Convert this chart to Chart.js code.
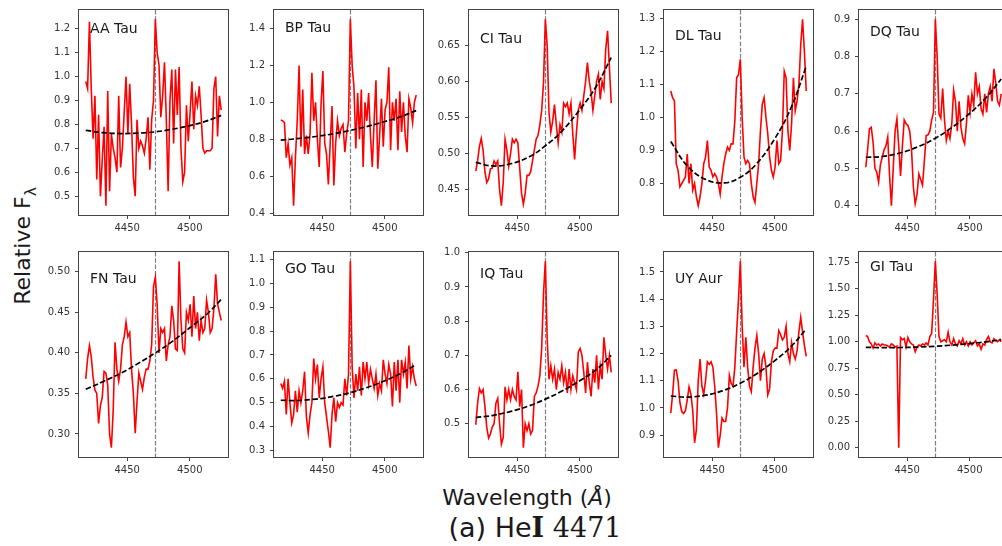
<!DOCTYPE html>
<html>
<head>
<meta charset="utf-8">
<title>He I 4471</title>
<script src="https://cdn.jsdelivr.net/npm/chart.js@4.4.1/dist/chart.umd.min.js"></script>
<style>
  html, body { margin: 0; padding: 0; background: #fff; }
  #page { position: relative; width: 1002px; height: 546px; overflow: hidden; font-family: "DejaVu Sans", sans-serif; color: #1a1a1a; }
  .panel { position: absolute; }
  .panel canvas { display: block; }
  #ylabel { position: absolute; left: 25px; top: 246px; transform: translate(-50%, -50%) rotate(-90deg); font-size: 22px; white-space: nowrap; }
  #ylabel sub { font-size: 0.7em; }
  #xlabel { position: absolute; left: 527px; top: 497px; transform: translate(-50%, -50%); font-size: 22px; white-space: nowrap; }
  #xlabel i { font-style: italic; }
  #caption { position: absolute; left: 535px; top: 527px; transform: translate(-50%, -50%); font-size: 27px; white-space: nowrap; }
  #caption .ser { font-family: "DejaVu Serif", serif; }
  #caption .b { font-weight: bold; }
</style>
</head>
<body>
<div id="page">
  <div id="ylabel">Relative F<sub>λ</sub></div>
  <div id="xlabel">Wavelength (<i>Å</i>)</div>
  <div id="caption">(a) He<span class="ser b">I</span> <span class="ser">4471</span></div>
</div>
<script>
// Estrelas e grade de comprimento de onda
const stars = ["AA Tau", "BP Tau", "CI Tau", "DL Tau", "DQ Tau",
               "FN Tau", "GO Tau", "IQ Tau", "UY Aur", "GI Tau"];
const waveStart = 4417.0;
const waveStep = 1.46;
const heLine = 4472.5;
const xTicks = [4450, 4500];

// Fluxo relativo (um valor por pixel)
const fluxAA = [0.98, 0.95, 1.23, 0.95, 0.74, 0.92, 0.57, 0.84, 0.50, 0.65,
  0.79, 0.46, 0.94, 0.52, 0.76, 0.70, 0.66, 0.60, 0.92, 0.62,
  0.70, 0.85, 1.00, 0.76, 0.97, 0.80, 0.58, 0.50, 0.82, 0.70,
  0.73, 0.71, 0.68, 0.74, 0.83, 0.61, 0.82, 0.90, 1.24, 1.10,
  1.05, 0.83, 0.92, 1.06, 0.82, 0.52, 0.90, 1.03, 0.72, 1.03,
  0.84, 1.04, 0.70, 0.56, 0.60, 0.88, 0.73, 0.85, 0.98, 0.78,
  0.92, 0.88, 0.96, 0.84, 0.70, 0.68, 0.69, 0.69, 0.69, 0.70,
  0.95, 1.00, 0.75, 0.92, 0.86];
const fluxBP = [0.905, 0.90, 0.89, 0.70, 0.775, 0.66, 0.70, 0.44, 0.70, 0.90,
  1.20, 0.76, 1.07, 0.72, 0.82, 0.72, 0.83, 1.16, 0.90, 1.00,
  0.80, 0.65, 0.99, 1.17, 0.78, 0.72, 0.555, 0.78, 0.98, 0.55,
  0.78, 0.90, 0.82, 0.86, 0.88, 0.73, 0.83, 0.90, 1.45, 1.20,
  1.08, 0.75, 1.05, 0.80, 1.07, 0.65, 1.00, 0.90, 1.05, 0.82,
  0.65, 0.90, 1.12, 0.64, 0.82, 1.02, 0.76, 0.96, 1.00, 1.19,
  0.74, 1.00, 0.90, 1.02, 0.74, 1.06, 0.84, 1.00, 0.82, 0.73,
  1.02, 0.97, 0.89, 1.00, 1.04];
const fluxCI = [0.476, 0.49, 0.51, 0.521, 0.505, 0.475, 0.46, 0.465, 0.479, 0.48,
  0.49, 0.485, 0.49, 0.45, 0.428, 0.46, 0.52, 0.505, 0.483, 0.50,
  0.52, 0.515, 0.52, 0.515, 0.48, 0.445, 0.43, 0.445, 0.47, 0.47,
  0.475, 0.49, 0.505, 0.52, 0.525, 0.54, 0.56, 0.598, 0.686, 0.65,
  0.557, 0.53, 0.545, 0.568, 0.54, 0.515, 0.54, 0.53, 0.57, 0.565,
  0.57, 0.555, 0.57, 0.527, 0.492, 0.53, 0.56, 0.57, 0.56, 0.58,
  0.60, 0.626, 0.60, 0.585, 0.56, 0.58, 0.60, 0.61, 0.575, 0.60,
  0.59, 0.645, 0.67, 0.62, 0.57];
const fluxDL = [1.08, 1.06, 1.05, 0.859, 0.84, 0.79, 0.80, 0.81, 0.82, 0.889,
  0.80, 0.86, 0.78, 0.80, 0.76, 0.733, 0.76, 0.80, 0.86, 0.88,
  0.93, 0.85, 0.84, 0.82, 0.83, 0.82, 0.80, 0.768, 0.82, 0.86,
  0.89, 0.91, 0.90, 0.92, 0.92, 0.99, 1.12, 1.13, 1.176, 1.00,
  0.88, 0.86, 0.87, 0.86, 0.80, 0.76, 0.743, 0.80, 0.86, 0.96,
  1.04, 1.06, 1.00, 0.95, 0.88, 0.84, 0.82, 0.85, 0.93, 0.86,
  0.87, 0.96, 1.14, 1.12, 0.96, 0.90, 0.98, 1.12, 1.02, 1.05,
  1.10, 1.22, 1.297, 1.20, 1.08];
const fluxDQ = [0.503, 0.55, 0.606, 0.61, 0.57, 0.50, 0.49, 0.463, 0.51, 0.53,
  0.55, 0.56, 0.584, 0.48, 0.40, 0.50, 0.60, 0.633, 0.56, 0.48,
  0.56, 0.63, 0.62, 0.615, 0.60, 0.55, 0.45, 0.405, 0.43, 0.485,
  0.47, 0.455, 0.52, 0.588, 0.59, 0.60, 0.63, 0.65, 0.90, 0.80,
  0.646, 0.635, 0.714, 0.63, 0.575, 0.60, 0.58, 0.62, 0.71, 0.68,
  0.60, 0.68, 0.61, 0.58, 0.566, 0.62, 0.696, 0.65, 0.70, 0.67,
  0.758, 0.70, 0.72, 0.66, 0.646, 0.70, 0.65, 0.70, 0.72, 0.68,
  0.767, 0.73, 0.68, 0.67, 0.70];
const fluxFN = [0.368, 0.393, 0.409, 0.395, 0.37, 0.354, 0.35, 0.313, 0.335, 0.345,
  0.377, 0.375, 0.36, 0.30, 0.283, 0.33, 0.413, 0.38, 0.365, 0.38,
  0.41, 0.42, 0.438, 0.42, 0.425, 0.38, 0.35, 0.301, 0.34, 0.375,
  0.365, 0.355, 0.37, 0.38, 0.38, 0.39, 0.41, 0.482, 0.493, 0.46,
  0.40, 0.43, 0.425, 0.43, 0.39, 0.41, 0.42, 0.458, 0.44, 0.405,
  0.403, 0.513, 0.44, 0.405, 0.40, 0.45, 0.44, 0.46, 0.42, 0.47,
  0.43, 0.45, 0.415, 0.44, 0.425, 0.43, 0.465, 0.45, 0.425, 0.43,
  0.455, 0.497, 0.46, 0.45, 0.44];
const fluxGO = [0.58, 0.56, 0.59, 0.45, 0.60, 0.50, 0.415, 0.45, 0.55, 0.46,
  0.55, 0.50, 0.55, 0.63, 0.44, 0.373, 0.45, 0.50, 0.685, 0.60,
  0.66, 0.52, 0.60, 0.65, 0.50, 0.44, 0.38, 0.311, 0.45, 0.52,
  0.42, 0.50, 0.48, 0.50, 0.49, 0.60, 0.53, 0.62, 1.093, 0.65,
  0.52, 0.62, 0.55, 0.65, 0.53, 0.67, 0.60, 0.67, 0.58, 0.64,
  0.60, 0.56, 0.62, 0.53, 0.58, 0.55, 0.68, 0.62, 0.58, 0.66,
  0.62, 0.484, 0.67, 0.55, 0.68, 0.50, 0.68, 0.62, 0.67, 0.56,
  0.74, 0.60, 0.65, 0.60, 0.57];
const fluxIQ = [0.497, 0.56, 0.603, 0.59, 0.60, 0.55, 0.49, 0.458, 0.47, 0.49,
  0.50, 0.56, 0.574, 0.50, 0.44, 0.46, 0.608, 0.57, 0.60, 0.57,
  0.60, 0.58, 0.57, 0.652, 0.55, 0.60, 0.43, 0.50, 0.48, 0.50,
  0.47, 0.48, 0.58, 0.59, 0.61, 0.64, 0.72, 0.88, 0.975, 0.75,
  0.63, 0.67, 0.63, 0.66, 0.60, 0.65, 0.63, 0.67, 0.62, 0.65,
  0.59, 0.66, 0.60, 0.64, 0.62, 0.60, 0.71, 0.72, 0.70, 0.65,
  0.59, 0.68, 0.62, 0.58, 0.66, 0.62, 0.70, 0.60, 0.67, 0.63,
  0.753, 0.70, 0.66, 0.70, 0.65];
const fluxUY = [0.981, 1.05, 1.139, 1.14, 1.10, 1.02, 0.987, 0.98, 0.99, 1.03,
  1.078, 1.05, 0.99, 0.872, 0.92, 1.10, 1.18, 1.08, 1.05, 1.10,
  1.17, 1.16, 1.17, 1.15, 1.08, 0.98, 0.854, 0.90, 0.963, 0.95,
  0.95, 1.00, 1.12, 1.09, 1.08, 1.15, 1.28, 1.40, 1.539, 1.30,
  1.15, 1.26, 1.15, 1.08, 1.06, 1.15, 1.22, 1.266, 1.20, 1.10,
  1.18, 1.20, 1.15, 1.048, 1.07, 1.17, 1.21, 1.22, 1.22, 1.284,
  1.27, 1.25, 1.26, 1.30, 1.20, 1.17, 1.24, 1.20, 1.18, 1.21,
  1.28, 1.333, 1.28, 1.23, 1.19];
const fluxGI = [1.06, 1.05, 1.00, 0.98, 0.94, 0.99, 0.97, 0.98, 0.96, 0.98,
  0.97, 0.97, 0.96, 0.95, 0.98, 0.97, 0.95, 0.96, 0.00, 1.04,
  1.02, 1.03, 0.95, 1.04, 1.00, 0.98, 0.97, 0.906, 0.95, 0.97,
  0.96, 0.98, 0.97, 0.99, 0.97, 1.05, 1.08, 1.40, 1.76, 1.45,
  1.05, 1.00, 1.01, 1.02, 1.00, 1.09, 1.00, 0.97, 1.03, 0.98,
  0.96, 1.01, 0.98, 1.03, 0.97, 1.00, 0.96, 1.00, 0.97, 0.99,
  1.01, 0.96, 0.98, 0.93, 0.98, 0.97, 1.02, 1.05, 1.00, 0.99,
  1.03, 1.01, 1.00, 1.02, 1.00];

// Continuo ajustado (linha tracejada)
const fitWave = [4417, 4430, 4445, 4460, 4472.5, 4485, 4500, 4513, 4525];
const fitAA = [0.775, 0.766, 0.762, 0.764, 0.769, 0.779, 0.795, 0.814, 0.838];
const fitBP = [0.795, 0.803, 0.815, 0.831, 0.848, 0.868, 0.896, 0.923, 0.955];
const fitCI = [0.488, 0.483, 0.486, 0.496, 0.511, 0.530, 0.561, 0.593, 0.633];
const fitDL = [0.927, 0.854, 0.812, 0.802, 0.819, 0.858, 0.936, 1.030, 1.154];
const fitDQ = [0.530, 0.532, 0.542, 0.560, 0.581, 0.608, 0.648, 0.690, 0.740];
const fitFN = [0.355, 0.364, 0.375, 0.388, 0.400, 0.413, 0.431, 0.447, 0.466];
const fitGO = [0.510, 0.509, 0.515, 0.527, 0.542, 0.562, 0.592, 0.623, 0.660];
const fitIQ = [0.518, 0.524, 0.536, 0.553, 0.572, 0.594, 0.626, 0.658, 0.700];
const fitUY = [1.044, 1.040, 1.047, 1.066, 1.091, 1.124, 1.174, 1.226, 1.290];
const fitGI = [0.948, 0.945, 0.946, 0.951, 0.958, 0.968, 0.983, 1.000, 1.020];

// Passo e casas decimais dos ticks do eixo y
const yStep = [0.1, 0.2, 0.05, 0.1, 0.1, 0.05, 0.1, 0.1, 0.1, 0.25];
const yDecimals = [1, 1, 2, 1, 1, 2, 1, 1, 1, 2];

const fluxes = [fluxAA, fluxBP, fluxCI, fluxDL, fluxDQ, fluxFN, fluxGO, fluxIQ, fluxUY, fluxGI];
const fits = [fitAA, fitBP, fitCI, fitDL, fitDQ, fitFN, fitGO, fitIQ, fitUY, fitGI];

// Posicao dos paineis na pagina
const colLeft = [79, 274, 469, 664, 859];
const rowTop = [9, 251];
const plotW = 149, plotH = 206;
const padL = 44, padT = 10, padR = 10, padB = 24;
const nameDrop = [19, 18, 29, 26, 22, 27, 17, 22, 27, 15];

// Margem de 5% como no matplotlib
function padded(lo, hi) {
  const pad = 0.05 * (hi - lo);
  return [lo - pad, hi + pad];
}

function tickList(lo, hi, step) {
  const out = [];
  for (let k = Math.ceil(lo / step - 1e-9); k * step <= hi + 1e-9; k++) {
    out.push(+(k * step).toFixed(4));
  }
  return out;
}

const waveEnd = waveStart + (fluxAA.length - 1) * waveStep;
const xRange = padded(waveStart, waveEnd);

// Linha do He I, moldura e nome da estrela
const panelDecor = {
  id: 'panelDecor',
  beforeDatasetsDraw(chart) {
    const { ctx, chartArea: a, scales } = chart;
    const x = Math.round(scales.x.getPixelForValue(heLine)) + 0.5;
    ctx.save();
    ctx.strokeStyle = '#7f7f7f';
    ctx.lineWidth = 1.2;
    ctx.setLineDash([4.4, 1.9]);
    ctx.beginPath();
    ctx.moveTo(x, a.top);
    ctx.lineTo(x, a.bottom);
    ctx.stroke();
    ctx.restore();
  },
  afterDraw(chart, args, opts) {
    const { ctx, chartArea: a } = chart;
    ctx.save();
    ctx.strokeStyle = '#444';
    ctx.lineWidth = 1;
    ctx.strokeRect(Math.round(a.left) - 0.5, Math.round(a.top) - 0.5,
                   Math.round(a.width) + 1, Math.round(a.height) + 1);
    ctx.fillStyle = '#1a1a1a';
    ctx.font = '14px "DejaVu Sans"';
    ctx.textBaseline = 'middle';
    ctx.fillText(opts.name, a.left + 11, a.top + opts.drop);
    ctx.restore();
  }
};

const page = document.querySelector('#page');

stars.forEach((name, i) => {
  const flux = fluxes[i];
  const fit = fits[i];
  const yRange = padded(Math.min(...flux), Math.max(...flux));
  const yTicks = tickList(yRange[0], yRange[1], yStep[i]);

  const box = document.createElement('div');
  box.className = 'panel';
  box.style.left = (colLeft[i % 5] - padL) + 'px';
  box.style.top = (rowTop[Math.floor(i / 5)] - padT) + 'px';
  const canvas = document.createElement('canvas');
  canvas.width = plotW + padL + padR;
  canvas.height = plotH + padT + padB;
  box.appendChild(canvas);
  page.appendChild(box);

  const spectrum = flux.map((f, k) => ({ x: waveStart + k * waveStep, y: f }));
  const continuum = fit.map((f, k) => ({ x: fitWave[k], y: f }));

  const tickFont = { family: 'DejaVu Sans', size: 10 };
  const axisGrid = { display: true, drawOnChartArea: false, drawTicks: true, tickLength: 4, color: '#444', lineWidth: 1 };

  new Chart(canvas, {
    type: 'line',
    data: {
      datasets: [
        { data: continuum, borderColor: '#000', borderWidth: 1.7, borderDash: [5.5, 2.4],
          pointRadius: 0, tension: 0.4, order: 0 },
        { data: spectrum, borderColor: '#ff0000', borderWidth: 1.6,
          pointRadius: 0, tension: 0, order: 1 }
      ]
    },
    options: {
      responsive: false,
      animation: false,
      events: [],
      layout: { padding: { top: padT, right: padR, left: 0, bottom: 0 } },
      plugins: {
        legend: { display: false },
        tooltip: { enabled: false },
        panelDecor: { name: name, drop: nameDrop[i] }
      },
      scales: {
        x: {
          type: 'linear',
          min: xRange[0],
          max: xRange[1],
          grid: axisGrid,
          border: { display: false },
          afterBuildTicks: (s) => { s.ticks = xTicks.map(v => ({ value: v })); },
          afterFit: (s) => { s.height = padB; },
          ticks: { font: tickFont, color: '#333', padding: 3, maxRotation: 0, autoSkip: false,
                   callback: (v) => String(v) }
        },
        y: {
          type: 'linear',
          min: yRange[0],
          max: yRange[1],
          grid: axisGrid,
          border: { display: false },
          afterBuildTicks: (s) => { s.ticks = yTicks.map(v => ({ value: v })); },
          afterFit: (s) => { s.width = padL; },
          ticks: { font: tickFont, color: '#333', padding: 5, autoSkip: false,
                   callback: (v) => Number(v).toFixed(yDecimals[i]) }
        }
      }
    },
    plugins: [panelDecor]
  });
});
</script>
</body>
</html>
